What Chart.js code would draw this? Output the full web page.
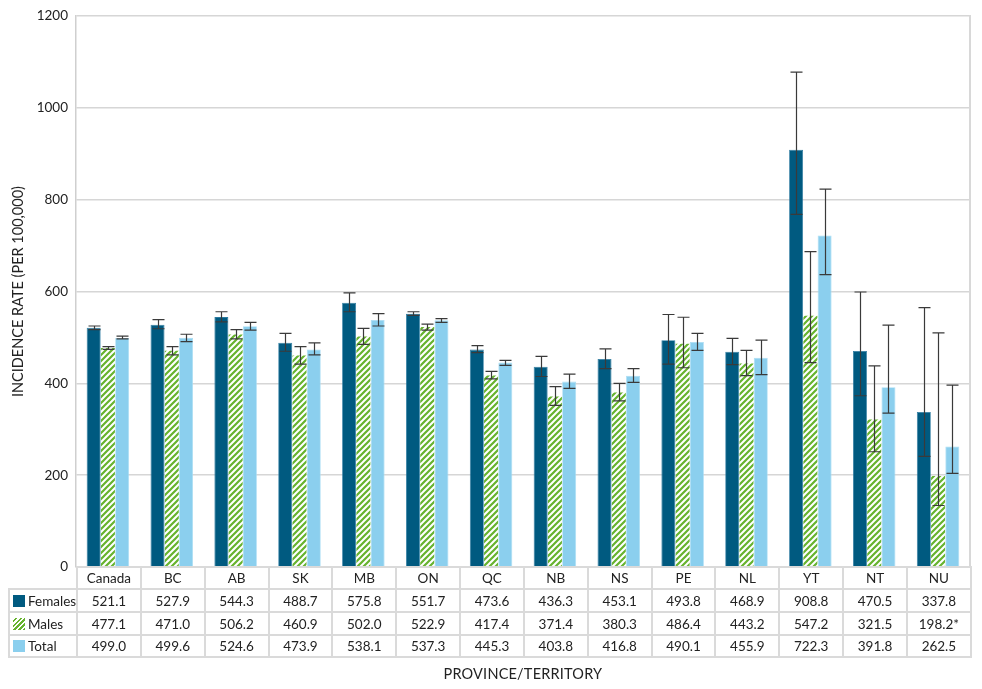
<!DOCTYPE html>
<html>
<head>
<meta charset="utf-8">
<script src="https://cdn.jsdelivr.net/npm/chart.js@4.4.1/dist/chart.umd.min.js"></script>
<style>
  html, body { margin: 0; padding: 0; background: #fff; }
  #wrap { position: relative; width: 982px; height: 689px; overflow: hidden; font-family: Lato, "Open Sans", sans-serif; color: #222; }
  #c { position: absolute; left: 0; top: 0; }
  table.dt { position: absolute; border-collapse: collapse; table-layout: fixed; font-size: 13.5px; }
  table.dt td { border: 2px solid #dadada; padding: 0; text-align: center; white-space: nowrap; overflow: hidden; }
  table.dt td.corner { border-top: none; border-left: none; }
  table.dt td.lab { text-align: left; padding-left: 3px; }
  .sw { display: inline-block; width: 12px; height: 12px; vertical-align: -1px; margin-right: 3px; }
  #xt { position: absolute; font-size: 14.5px; letter-spacing: 0.2px; }
</style>
</head>
<body>
<div id="wrap">
  <canvas id="c" width="982" height="689"></canvas>
</div>
<script>
// ---- data ----
const categories = ['Canada','BC','AB','SK','MB','ON','QC','NB','NS','PE','NL','YT','NT','NU'];
const females = [521.1,527.9,544.3,488.7,575.8,551.7,473.6,436.3,453.1,493.8,468.9,908.8,470.5,337.8];
const males   = [477.1,471.0,506.2,460.9,502.0,522.9,417.4,371.4,380.3,486.4,443.2,547.2,321.5,198.2];
const total   = [499.0,499.6,524.6,473.9,538.1,537.3,445.3,403.8,416.8,490.1,455.9,722.3,391.8,262.5];
const malesNote = ['','','','','','','','','','','','','','*'];
// 95% confidence interval bounds
const femalesLow  = [517,519,534,470,556,548,467,415,432,442,441,768,373,241];
const femalesHigh = [525,539,556,509,597,556,482,459,475,550,498,1078,599,565];
const malesLow    = [474,462,497,442,485,516,410,352,362,434,417,445,251,134];
const malesHigh   = [480,480,517,480,520,529,426,393,400,544,472,687,438,510];
const totalLow    = [497,491,516,462,525,533,439,389,402,472,419,637,335,204];
const totalHigh   = [503,507,533,488,552,541,450,420,432,509,494,823,527,396];
const seriesNames = ['Females','Males','Total'];
const yTicks = [0,200,400,600,800,1000,1200];
const yTitle = 'INCIDENCE RATE (PER 100,000)';
const xTitle = 'PROVINCE/TERRITORY';

const COL_F = '#005a80';
const COL_T = '#8bcfee';
const COL_G = '#66b32e';

function hatch() {
  const s = 6;
  const p = document.createElement('canvas');
  p.width = s; p.height = s;
  const g = p.getContext('2d');
  g.fillStyle = '#fff'; g.fillRect(0,0,s,s);
  g.strokeStyle = COL_G; g.lineWidth = 2.2;
  g.beginPath();
  g.moveTo(0,s); g.lineTo(s,0);
  g.moveTo(-1,1); g.lineTo(1,-1);
  g.moveTo(s-1,s+1); g.lineTo(s+1,s-1);
  g.stroke();
  return document.getElementById('c').getContext('2d').createPattern(p,'repeat');
}

const lows = [femalesLow, malesLow, totalLow];
const highs = [femalesHigh, malesHigh, totalHigh];

const errorBars = {
  id: 'errorBars',
  afterDatasetsDraw(chart) {
    const ctx = chart.ctx, y = chart.scales.y;
    ctx.save();
    ctx.strokeStyle = '#3a3a3a';
    ctx.lineWidth = 1.2;
    for (let d = 0; d < 3; d++) {
      chart.getDatasetMeta(d).data.forEach((bar, i) => {
        const x = Math.round(bar.x) + 0.5;
        const yl = y.getPixelForValue(lows[d][i]);
        const yh = y.getPixelForValue(highs[d][i]);
        ctx.beginPath();
        ctx.moveTo(x, yl); ctx.lineTo(x, yh);
        ctx.moveTo(x - 6, yl); ctx.lineTo(x + 6, yl);
        ctx.moveTo(x - 6, yh); ctx.lineTo(x + 6, yh);
        ctx.stroke();
      });
    }
    ctx.restore();
  }
};

const frame = {
  id: 'frame',
  afterDraw(chart) {
    const {ctx, chartArea: a} = chart;
    ctx.save();
    ctx.strokeStyle = '#d8d8d8';
    ctx.lineWidth = 2;
    ctx.beginPath();
    ctx.moveTo(a.right, a.top - 1); ctx.lineTo(a.right, a.bottom);
    ctx.stroke();
    ctx.restore();
  }
};

const chart = new Chart(document.getElementById('c'), {
  type: 'bar',
  data: {
    labels: categories,
    datasets: [
      { label: seriesNames[0], data: females, backgroundColor: COL_F, borderColor: '#2a7aa0', borderWidth: 0.8 },
      { label: seriesNames[1], data: males, backgroundColor: hatch(), borderWidth: 0 },
      { label: seriesNames[2], data: total, backgroundColor: COL_T, borderColor: '#a9ddf4', borderWidth: 0.8 }
    ]
  },
  options: {
    responsive: false,
    animation: false,
    devicePixelRatio: 1,
    layout: { padding: { left: 6, top: 10, right: 12, bottom: 122 } },
    datasets: { bar: { categoryPercentage: 0.67, barPercentage: 0.98 } },
    plugins: { legend: { display: false }, tooltip: { enabled: false } },
    scales: {
      x: { display: false },
      y: {
        min: 0, max: 1200,
        afterFit(s) { s.width = 70; },
        afterBuildTicks(s) { s.ticks = yTicks.map(v => ({ value: v })); },
        grid: { color: '#d6d6d6', lineWidth: 1.5, drawTicks: false },
        border: { color: '#cfcfcf', width: 1.5 },
        ticks: { padding: 8, color: '#222', font: { family: 'Lato', size: 13.5 }, callback: v => String(v) },
        title: { display: true, text: yTitle, color: '#222', font: { family: 'Lato', size: 14.5 }, padding: { top: 4, bottom: 0 } }
      }
    }
  },
  plugins: [errorBars, frame]
});

// ---- data table below the plot ----
(function buildTable() {
  const a = chart.chartArea;
  const wrap = document.getElementById('wrap');
  const left0 = 8;
  const colW = (a.right - a.left) / categories.length;
  const t = document.createElement('table');
  t.className = 'dt';
  t.style.left = left0 + 'px';
  t.style.top = (a.bottom - 1) + 'px';
  t.style.width = (a.right - left0 + 1) + 'px';
  const cg = document.createElement('colgroup');
  const c0 = document.createElement('col'); c0.style.width = (a.left - left0) + 'px'; cg.appendChild(c0);
  categories.forEach(() => { const c = document.createElement('col'); c.style.width = colW + 'px'; cg.appendChild(c); });
  t.appendChild(cg);
  const heights = [22, 23, 23, 22];
  const hr = t.insertRow(); hr.style.height = heights[0] + 'px';
  const corner = hr.insertCell(); corner.className = 'corner';
  categories.forEach(c => { const td = hr.insertCell(); td.textContent = c; });
  const swatch = [
    '<span class="sw" style="background:' + COL_F + '"></span>',
    '<span class="sw" style="background:repeating-linear-gradient(135deg,#fff 0 1.6px,' + COL_G + ' 1.6px 3.4px)"></span>',
    '<span class="sw" style="background:' + COL_T + '"></span>'
  ];
  const rows = [females, males, total];
  rows.forEach((vals, r) => {
    const tr = t.insertRow(); tr.style.height = heights[r + 1] + 'px';
    const lab = tr.insertCell(); lab.className = 'lab';
    lab.innerHTML = swatch[r];
    lab.appendChild(document.createTextNode(seriesNames[r]));
    vals.forEach((v, i) => {
      const td = tr.insertCell();
      td.textContent = v.toFixed(1) + (r === 1 ? malesNote[i] : '');
    });
  });
  wrap.appendChild(t);
  const xt = document.createElement('div');
  xt.id = 'xt';
  xt.textContent = xTitle;
  wrap.appendChild(xt);
  xt.style.left = ((a.left + a.right) / 2 - xt.offsetWidth / 2) + 'px';
  xt.style.top = '665px';
})();
</script>
</body>
</html>
